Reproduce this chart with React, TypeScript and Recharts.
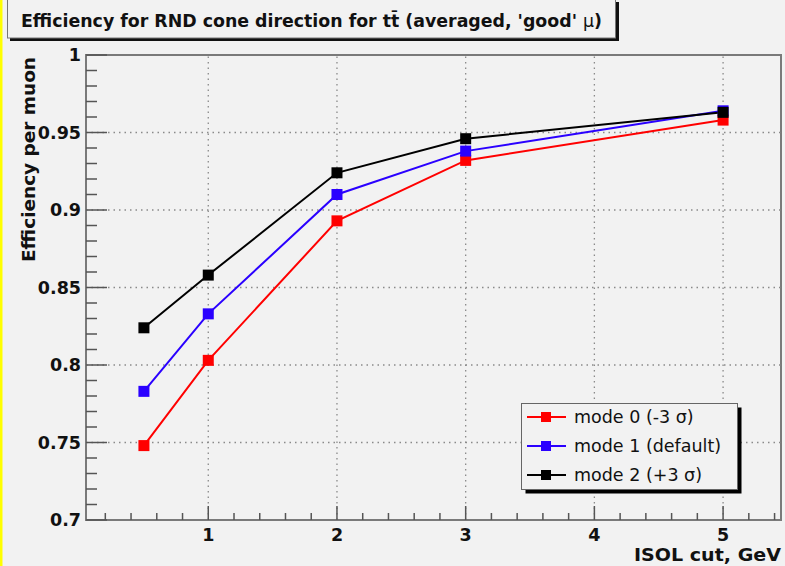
import React from 'react';
import { LineChart, Line, XAxis, YAxis, ReferenceLine, ReferenceArea, Legend } from 'recharts';

// ISOL cut values (GeV) at which the efficiency was evaluated
const isolCuts = [0.5, 1, 2, 3, 5];

// Efficiency per muon for each systematic mode
const mode0 = [0.748, 0.803, 0.893, 0.932, 0.958];
const mode1 = [0.783, 0.833, 0.910, 0.938, 0.964];
const mode2 = [0.824, 0.858, 0.924, 0.946, 0.963];

const seriesNames = ['mode 0 (-3 σ)', 'mode 1 (default)', 'mode 2 (+3 σ)'];
const seriesKeys = ['m0', 'm1', 'm2'];
const seriesColors = ['#ff0000', '#2a00ff', '#000000'];

// Axis ticks
const xDomain = [0.05, 5.45];
const xMajorTicks = [1, 2, 3, 4, 5];
const xMinorTicks = [0.2, 0.4, 0.6, 0.8, 1.2, 1.4, 1.6, 1.8, 2.2, 2.4, 2.6, 2.8, 3.2, 3.4, 3.6, 3.8, 4.2, 4.4, 4.6, 4.8, 5.2, 5.4];
const yDomain = [0.7, 1];
const yMajorTicks = [0.7, 0.75, 0.8, 0.85, 0.9, 0.95, 1];
const yMinorTicks = [
  0.71, 0.72, 0.73, 0.74, 0.76, 0.77, 0.78, 0.79, 0.81, 0.82, 0.83, 0.84,
  0.86, 0.87, 0.88, 0.89, 0.91, 0.92, 0.93, 0.94, 0.96, 0.97, 0.98, 0.99,
];
const yTickLabels = ['0.7', '0.75', '0.8', '0.85', '0.9', '0.95', '1'];

const W = 785;
const H = 566;
const BG = '#f2f2f2';
const FONT = '"DejaVu Sans", "Liberation Sans", sans-serif';

const rows = isolCuts.map((x, i) => ({ x, m0: mode0[i], m1: mode1[i], m2: mode2[i] }));

const xTickValues = [...xMinorTicks, ...xMajorTicks].sort((a, b) => a - b);
const yTickValues = [...yMinorTicks, ...yMajorTicks].sort((a, b) => a - b);

const isMajor = (list: number[], v: number) => list.some((t) => Math.abs(t - v) < 1e-6);

function renderXTick(props: any) {
  const { x, y, payload } = props;
  const v = payload.value;
  const major = isMajor(xMajorTicks, v);
  return (
    <g key={`xt-${v}`}>
      <line x1={x} x2={x} y1={y} y2={y - (major ? 14 : 7)} stroke="#555" strokeWidth={1.5} />
      {major && (
        <text x={x} y={y + 21} textAnchor="middle" fontFamily={FONT} fontWeight="bold" fontSize={17.5} fill="#111">
          {v}
        </text>
      )}
    </g>
  );
}

function renderYTick(props: any) {
  const { x, y, payload } = props;
  const v = payload.value;
  const idx = yMajorTicks.findIndex((t) => Math.abs(t - v) < 1e-6);
  const major = idx >= 0;
  return (
    <g key={`yt-${v}`}>
      <line x1={x} x2={x + (major ? 21 : 11)} y1={y} y2={y} stroke="#555" strokeWidth={1.5} />
      {major && (
        <text x={x - 5} y={y} dy="0.36em" textAnchor="end" fontFamily={FONT} fontWeight="bold" fontSize={17.5} fill="#111">
          {yTickLabels[idx]}
        </text>
      )}
    </g>
  );
}

function squareDot(color: string) {
  return (p: any) => (
    <rect key={`d-${p.index}`} x={p.cx - 5.5} y={p.cy - 5.5} width={11} height={11} fill={color} />
  );
}

function LegendBox(props: any) {
  const payload = (props.payload || []) as any[];
  const bw = 216;
  const bh = 86;
  return (
    <svg width={bw + 6} height={bh + 6} style={{ display: 'block' }}>
      <rect x={4.5} y={4.5} width={bw} height={bh} fill="#000" />
      <rect x={0.5} y={0.5} width={bw} height={bh} fill={BG} stroke="#666" strokeWidth={1} />
      {payload.map((e, i) => {
        const cy = 14 + i * 29;
        return (
          <g key={e.value}>
            <line x1={6} x2={45} y1={cy} y2={cy} stroke={e.color} strokeWidth={2} />
            <rect x={20} y={cy - 5} width={10} height={10} fill={e.color} />
            <text x={53} y={cy} dy="0.36em" fontFamily={FONT} fontSize={17.5} fill="#111">
              {e.value}
            </text>
          </g>
        );
      })}
    </svg>
  );
}

export default function App() {
  return (
    <div style={{ position: 'absolute', left: 0, top: 0, width: W, height: H, background: BG, overflow: 'hidden' }}>
      <LineChart
        width={W}
        height={H}
        data={rows}
        margin={{ top: 55, right: 4, bottom: 16, left: 26 }}
      >
        <XAxis
          dataKey="x"
          type="number"
          domain={xDomain}
          ticks={xTickValues}
          interval={0}
          allowDataOverflow
          height={30}
          tickSize={0}
          tickMargin={0}
          tickLine={false}
          axisLine={false}
          tick={renderXTick}
        />
        <YAxis
          type="number"
          domain={yDomain}
          ticks={yTickValues}
          interval={0}
          allowDataOverflow
          width={60}
          tickSize={0}
          tickMargin={0}
          tickLine={false}
          axisLine={false}
          tick={renderYTick}
        />
        {yMajorTicks.slice(1, -1).map((v) => (
          <ReferenceLine key={`gy${v}`} y={v} stroke="#8a8a8a" strokeWidth={1.3} strokeDasharray="1.5 4" />
        ))}
        {xMajorTicks.map((v) => (
          <ReferenceLine key={`gx${v}`} x={v} stroke="#8a8a8a" strokeWidth={1.3} strokeDasharray="1.5 4" />
        ))}
        <ReferenceArea
          x1={xDomain[0]}
          x2={xDomain[1]}
          y1={yDomain[0]}
          y2={yDomain[1]}
          fill="none"
          fillOpacity={0}
          stroke="#7a7a7a"
          strokeWidth={2}
        />
        {seriesKeys.map((k, i) => (
          <Line
            key={k}
            dataKey={k}
            name={seriesNames[i]}
            stroke={seriesColors[i]}
            strokeWidth={2}
            dot={squareDot(seriesColors[i])}
            activeDot={false}
            isAnimationActive={false}
          />
        ))}
        <Legend
          layout="vertical"
          align="center"
          verticalAlign="middle"
          content={<LegendBox />}
          wrapperStyle={{ position: 'absolute', left: 521, top: 403, width: 222, height: 92 }}
        />
      </LineChart>

      {/* frame decorations: page edge, title pave, axis titles */}
      <svg width={W} height={H} style={{ position: 'absolute', left: 0, top: 0, pointerEvents: 'none' }}>
        <rect x={0} y={0} width={2.5} height={H} fill="#ffff00" />
        <rect x={10} y={2} width={609} height={39} fill="#111" />
        <rect x={7.5} y={-1} width={608} height={39} fill={BG} stroke="#777" strokeWidth={1} />
        <text x={21} y={27} fontFamily={FONT} fontWeight="bold" fontSize={17} fill="#111" textLength={581} lengthAdjust="spacingAndGlyphs">
          Efficiency for RND cone direction for tt̄ (averaged, 'good'{' '}
          <tspan fontWeight="normal">μ</tspan>)
        </text>
        <text
          transform="translate(35, 57) rotate(-90)"
          textAnchor="end"
          fontFamily={FONT}
          fontWeight="bold"
          fontSize={18.5}
          fill="#111"
          textLength={205}
          lengthAdjust="spacingAndGlyphs"
        >
          Efficiency per muon
        </text>
        <text x={781} y={561} textAnchor="end" fontFamily={FONT} fontWeight="bold" fontSize={18} fill="#111" textLength={147} lengthAdjust="spacingAndGlyphs">
          ISOL cut, GeV
        </text>
      </svg>
    </div>
  );
}
